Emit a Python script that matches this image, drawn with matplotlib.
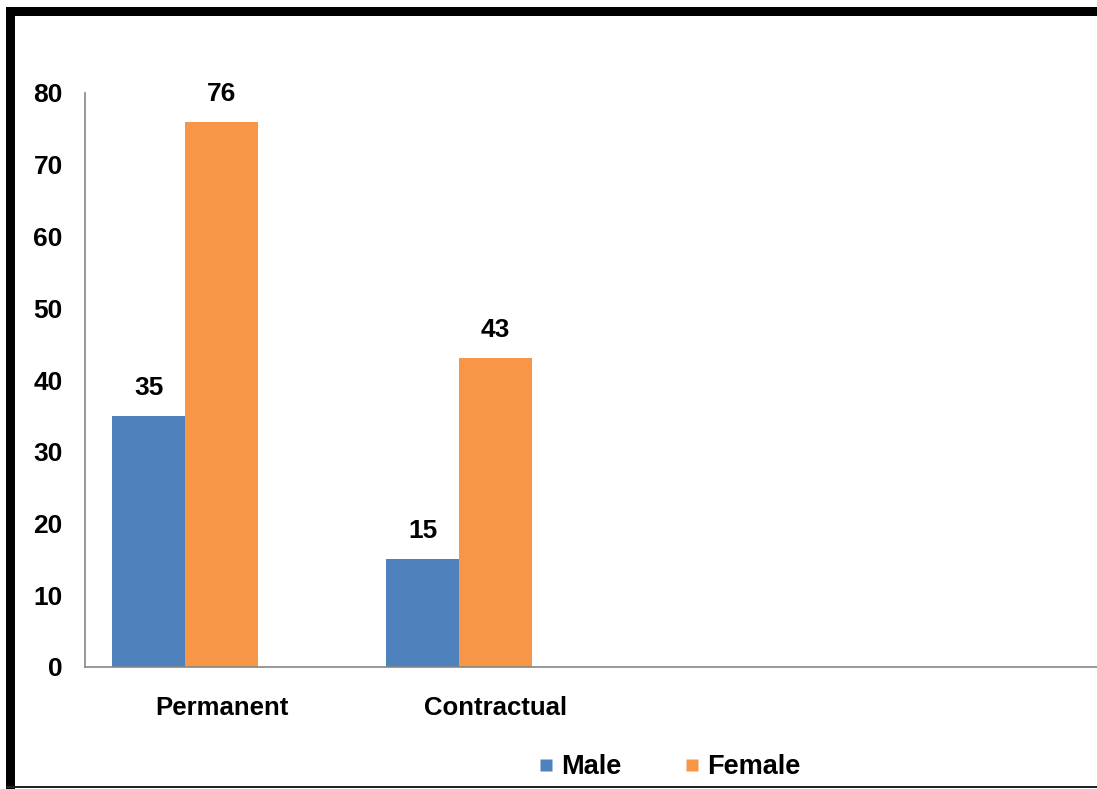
import matplotlib
matplotlib.use("Agg")
import matplotlib.pyplot as plt
import matplotlib.transforms as mtransforms
from matplotlib.patches import Rectangle
from matplotlib.lines import Line2D
import numpy as np

categories = ["Permanent", "Contractual"]
series_names = ["Male", "Female"]
male = [35, 15]
female = [76, 43]
yticks = [0, 10, 20, 30, 40, 50, 60, 70, 80]

W, H = 1097, 789
fig = plt.figure(figsize=(W / 100, H / 100), dpi=100)
FONT = ["Liberation Sans", "DejaVu Sans"]
plt.rcParams["font.family"] = FONT

def px_ax(x0, y0, x1, y1):
    return [x0 / W, 1 - y1 / H, (x1 - x0) / W, (y1 - y0) / H]

ax = fig.add_axes(px_ax(85, 93, 1097, 667))
blue = "#4F81BD"
orange = "#F79646"
x = np.arange(len(categories))
bw = 0.266
b1 = ax.bar(x - bw / 2, male, bw, color=blue, edgecolor="none")
b2 = ax.bar(x + bw / 2, female, bw, color=orange, edgecolor="none")

for bars in (b1, b2):
    for rect in bars:
        h = rect.get_height()
        ax.annotate(f"{int(h)}", (rect.get_x() + rect.get_width() / 2, h),
                    xytext=(0, 28), textcoords="offset pixels",
                    ha="center", va="center", fontsize=19, fontweight="bold",
                    color="black")

ax.set_xlim(-0.365, 3.328)
ax.set_ylim(0, 80)
ax.set_yticks(yticks)
ax.set_yticklabels([str(v) for v in yticks], fontsize=19, fontweight="bold")
ax.set_xticks(x)
ax.set_xticklabels(categories, fontsize=18.5, fontweight="bold")
ax.tick_params(axis="both", length=0)
ax.tick_params(axis="y", pad=16)
ax.tick_params(axis="x", pad=21)
offset = mtransforms.ScaledTranslation(37 / 100, 0, fig.dpi_scale_trans)
for lbl in ax.get_xticklabels():
    lbl.set_transform(lbl.get_transform() + offset)

for s in ("top", "right"):
    ax.spines[s].set_visible(False)
for s in ("left", "bottom"):
    ax.spines[s].set_color("#868686")
    ax.spines[s].set_linewidth(1.2)

handles = [Line2D([], [], marker="s", linestyle="none", markersize=8,
                  markerfacecolor=c, markeredgecolor="none") for c in (blue, orange)]
leg = fig.legend(handles, series_names, loc="center", bbox_to_anchor=(669 / W, 1 - 767 / H),
                 ncol=2, frameon=False, handlelength=0.6, handletextpad=0.25,
                 columnspacing=2.3, prop={"size": 19.5, "weight": "bold"})

# border
def rect_px(x0, y0, x1, y1, color):
    fig.patches.append(Rectangle((x0 / W, 1 - y1 / H), (x1 - x0) / W, (y1 - y0) / H,
                                 transform=fig.transFigure, facecolor=color,
                                 edgecolor="none", zorder=10))

rect_px(6, 7, W, 16, "black")
rect_px(6, 7, 15, H, "black")
rect_px(6, 786, W, 788, "#222222")

fig.savefig("out.png", dpi=100)
